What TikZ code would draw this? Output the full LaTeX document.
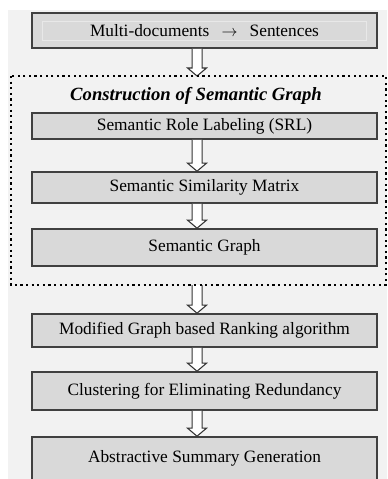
\documentclass[tikz,border=0pt]{standalone}
\usepackage{fontspec}
\setmainfont{Liberation Serif}
\usetikzlibrary{calc}
\definecolor{pagegray}{HTML}{F2F2F2}
\definecolor{boxgray}{HTML}{D9D9D9}
\definecolor{edgegray}{HTML}{404040}
\definecolor{innergray}{HTML}{E8E8E8}

\begin{document}
\begin{tikzpicture}[x=0.75pt, y=-0.75pt]
	\tikzstyle{stage} = [ draw=edgegray, fill=boxgray, line width=1.2pt, rectangle, inner sep=0pt, minimum width=258.75pt, font={\fontsize{13}{15}\selectfont}];
	\tikzstyle{heading} = [font={\fontsize{14}{16}\selectfont\bfseries\itshape}];
	\tikzstyle{flow} = [ draw=black!80, fill=white, line width=0.8pt, line join=miter];
	\tikzstyle{group} = [ draw=black, line width=1.6pt, dash pattern=on 1.6pt off 2.6pt];

	\useasboundingbox (0,0) rectangle (387,479);
	\fill[pagegray] (8,10) rectangle (387,479);

	% stages: name / centre y / height / text
	\foreach \name/\y/\h/\txt in {
		multi/30.5/35/{Multi-documents\hspace{0.7em}$\rightarrow$\hspace{0.7em}Sentences},
		srl/126/26/{Semantic Role Labeling (SRL)},
		sim/187.5/31/{Semantic Similarity Matrix},
		graph/247.5/37/{Semantic Graph},
		rank/330.5/33/{Modified Graph based Ranking algorithm},
		clus/391/38/{Clustering for Eliminating Redundancy},
		summ/458.5/43/{Abstractive Summary Generation}} {
		\node[stage, minimum height=\h*0.75pt] (\name) at (204.5,\y) {\txt};
	}

	\draw[innergray, line width=0.6pt] ($(multi.north west)+(11,9)$) rectangle ($(multi.south east)+(-11,-8)$);

	% dotted group round the graph construction
	\coordinate (grouptop) at (197,76);
	\coordinate (groupbot) at (197,285);
	\node[heading] (title) at (196,96) {Construction of Semantic Graph};

	\coordinate (spine) at ([xshift=-5.6pt]multi.south);
	\foreach \a/\b in {multi.south/grouptop, srl.south/sim.north, sim.south/graph.north, groupbot/rank.north, rank.south/clus.north, clus.south/summ.north} {
		\draw[flow] let \p1 = (\a), \p2 = (\b), \p3 = (spine) in
			(\x3-3.75pt,\y1) -- (\x3-3.75pt,\y2+6pt) -- (\x3-7.1pt,\y2+6pt) -- (\x3,\y2)
			-- (\x3+7.1pt,\y2+6pt) -- (\x3+3.75pt,\y2+6pt) -- (\x3+3.75pt,\y1);
	}

	\draw[group] (11,76) rectangle (386,285);
\end{tikzpicture}
\end{document}
